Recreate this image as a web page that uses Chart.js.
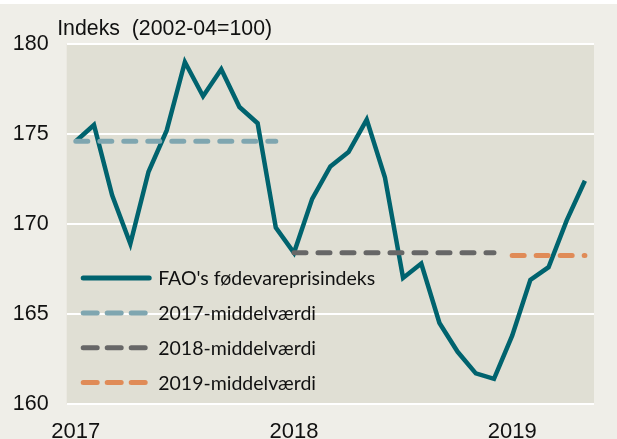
<!DOCTYPE html>
<html>
<head>
<meta charset="utf-8">
<script src="https://cdn.jsdelivr.net/npm/chart.js@4/dist/chart.umd.min.js"></script>
<style>
  html, body { margin: 0; padding: 0; background: #ffffff; }
  #wrap { width: 617px; height: 439px; }
</style>
</head>
<body>
<div id="wrap"><canvas id="c" width="617" height="439"></canvas></div>
<script>
// monthly categories, jan 2017 - maj 2019
const months = [
  '2017-01','2017-02','2017-03','2017-04','2017-05','2017-06','2017-07','2017-08','2017-09','2017-10','2017-11','2017-12',
  '2018-01','2018-02','2018-03','2018-04','2018-05','2018-06','2018-07','2018-08','2018-09','2018-10','2018-11','2018-12',
  '2019-01','2019-02','2019-03','2019-04','2019-05'
]
// FAO's fødevareprisindeks (2002-04=100)
const faoIndex = [
  174.6, 175.5, 171.6, 168.9, 172.9, 175.2, 179.0, 177.1, 178.6, 176.5, 175.6, 169.8,
  168.4, 171.4, 173.2, 174.0, 175.8, 172.6, 167.0, 167.8, 164.5, 162.9, 161.7, 161.4,
  163.8, 166.9, 167.6, 170.2, 172.4
]
// yearly averages, drawn from first to last month of each year
const mean2017 = [{x: '2017-01', y: 174.6}, {x: '2017-12', y: 174.6}]
const mean2018 = [{x: '2018-01', y: 168.4}, {x: '2018-12', y: 168.4}]
const mean2019 = [{x: '2019-01', y: 168.25}, {x: '2019-05', y: 168.25}]

const yTicks = [160, 165, 170, 175, 180]
const unitLabel = 'Indeks  (2002-04=100)'

const axisFont = 'Liberation Sans, Arial, sans-serif'
const legendFont = 'Lato, Carlito, sans-serif'

const backgroundPlugin = {
  id: 'bg',
  beforeDraw: (chart) => {
    const {ctx, chartArea} = chart
    ctx.save()
    ctx.fillStyle = '#efeee8'
    ctx.fillRect(0, 4, chart.width, chart.height - 4)
    ctx.fillStyle = '#e0dfd4'
    ctx.fillRect(chartArea.left, chartArea.top, chartArea.right - chartArea.left, chartArea.bottom - chartArea.top)
    ctx.restore()
  }
}

const legendPlugin = {
  id: 'insideLegend',
  afterDraw: (chart) => {
    const {ctx, chartArea} = chart
    const sets = chart.data.datasets
    ctx.save()
    sets.forEach((ds, i) => {
      const y = chartArea.bottom - 21.5 - (sets.length - 1 - i) * 34.8
      const x0 = chartArea.left + 16.5
      ctx.beginPath()
      ctx.strokeStyle = ds.borderColor
      ctx.lineWidth = 5
      ctx.lineCap = 'round'
      ctx.setLineDash(ds.borderDash ? [14, 10] : [])
      ctx.moveTo(x0, y)
      ctx.lineTo(x0 + 66, y)
      ctx.stroke()
      ctx.setLineDash([])
      ctx.fillStyle = '#111111'
      ctx.font = '19.5px ' + legendFont
      ctx.textBaseline = 'middle'
      ctx.textAlign = 'left'
      ctx.fillText(ds.label, chartArea.left + 91.5, y + 1)
    })
    // unit text above the y axis
    ctx.fillStyle = '#111111'
    ctx.font = '21.3px ' + axisFont
    ctx.textBaseline = 'alphabetic'
    ctx.fillText(unitLabel, chartArea.left - 9.5, 35)
    ctx.restore()
  }
}

new Chart(document.getElementById('c'), {
  type: 'line',
  data: {
    labels: months,
    datasets: [
      {
        label: "FAO's fødevareprisindeks",
        data: faoIndex,
        borderColor: '#00636e',
        borderWidth: 4.5,
        pointRadius: 0,
        tension: 0,
        order: 1
      },
      {
        label: '2017-middelværdi',
        data: mean2017,
        borderColor: '#7fa6b0',
        borderWidth: 5,
        borderDash: [12, 12],
        borderCapStyle: 'round',
        pointRadius: 0,
        order: 0
      },
      {
        label: '2018-middelværdi',
        data: mean2018,
        borderColor: '#676767',
        borderWidth: 5,
        borderDash: [12, 12],
        borderCapStyle: 'round',
        pointRadius: 0,
        order: 0
      },
      {
        label: '2019-middelværdi',
        data: mean2019,
        borderColor: '#e08b57',
        borderWidth: 5,
        borderDash: [12, 12],
        borderCapStyle: 'round',
        pointRadius: 0,
        order: 0
      }
    ]
  },
  options: {
    responsive: false,
    animation: false,
    devicePixelRatio: 1,
    layout: {
      padding: {top: 44, right: 23, bottom: 0, left: 0}
    },
    plugins: {
      legend: {display: false},
      tooltip: {enabled: false},
      title: {display: false}
    },
    scales: {
      x: {
        type: 'category',
        offset: true,
        grid: {display: false, drawTicks: false},
        border: {display: false},
        afterFit: (scale) => { scale.height = 35 },
        ticks: {
          autoSkip: false,
          maxRotation: 0,
          padding: 15,
          color: '#111111',
          font: {family: axisFont, size: 22},
          callback: function(value, index) {
            const m = months[index]
            return m.endsWith('-01') ? m.slice(0, 4) : ''
          }
        }
      },
      y: {
        min: yTicks[0],
        max: yTicks[yTicks.length - 1],
        afterBuildTicks: (scale) => { scale.ticks = yTicks.map(v => ({value: v})) },
        afterFit: (scale) => { scale.width = 66.7 },
        grid: {color: '#ffffff', lineWidth: 2, drawTicks: false},
        border: {display: false},
        ticks: {
          padding: 18,
          color: '#111111',
          font: {family: axisFont, size: 21.5}
        }
      }
    }
  },
  plugins: [backgroundPlugin, legendPlugin]
})
</script>
</body>
</html>
